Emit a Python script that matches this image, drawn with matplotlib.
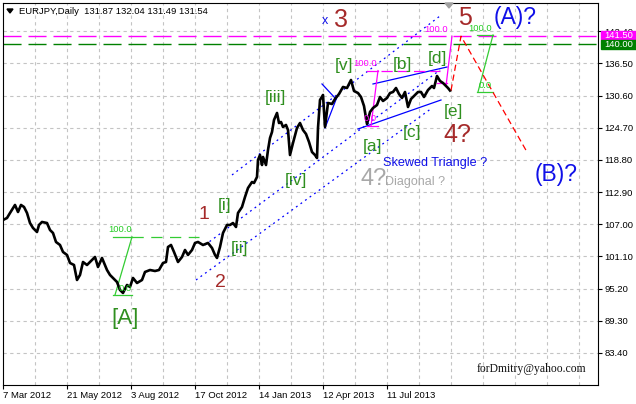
import matplotlib
matplotlib.use("Agg")
import matplotlib.pyplot as plt
from matplotlib.patches import Polygon, Rectangle

plt.rcParams["font.family"] = ["Liberation Sans", "DejaVu Sans"]

# ---------------------------------------------------------------------------
# Data (x = bar index from 7 Mar 2012, 1 bar per pixel)
# ---------------------------------------------------------------------------

bars = [0, 4, 7, 12, 15, 18, 21, 24, 27, 30, 34, 36, 39, 44, 47, 50, 53, 57, 60, 64,
        67, 71, 74, 77, 80, 84, 87, 92, 95, 99, 104, 107, 110, 114, 117, 120, 124, 127,
        130, 134, 139, 142, 147, 152, 156, 160, 163, 165, 168, 171, 175, 179, 182, 185,
        189, 192, 195, 200, 205, 209, 212, 214, 217, 220, 224, 227, 230, 233, 235, 239,
        242, 245, 249, 251, 254, 255, 257, 259, 260, 263, 265, 267, 269, 271, 274, 276,
        278, 280, 283, 285, 287, 290, 294, 297, 300, 303, 306, 309, 312, 314, 315, 317,
        320, 322, 325, 329, 332, 336, 340, 344, 348, 351, 355, 358, 361, 363, 364, 367,
        370, 374, 377, 380, 384, 387, 390, 393, 396, 399, 402, 405, 408, 411, 415, 418,
        421, 425, 429, 431, 434, 437, 440, 443, 445, 447]

closes = [107.79, 108.16, 109.08, 110.55, 109.26, 110.55, 110.18, 109.08, 107.24, 106.33,
          105.59, 106.88, 107.43, 107.24, 105.96, 105.41, 103.76, 103.21, 101.93, 101.38,
          99.91, 99.54, 96.79, 97.71, 100.09, 99.54, 100.09, 101.01, 99.17, 100.83,
          98.62, 97.71, 97.16, 96.42, 94.96, 94.41, 95.87, 95.51, 97.16, 96.24,
          96.79, 98.26, 98.62, 98.44, 98.62, 99.91, 100.09, 102.84, 103.21, 101.93,
          100.09, 101.01, 102.29, 101.38, 102.29, 103.58, 103.76, 103.21, 103.58, 102.66,
          101.38, 100.83, 102.84, 105.41, 106.88, 106.88, 107.24, 106.51, 109.08, 110.18,
          112.01, 113.66, 114.76, 114.58, 115.68, 118.80, 119.71, 117.88, 119.35, 117.88,
          120.63, 122.83, 123.93, 126.13, 127.42, 125.58, 125.77, 124.85, 125.22, 124.30,
          119.71, 121.92, 124.67, 125.58, 124.30, 123.57, 122.10, 120.26, 119.71, 119.16,
          124.67, 129.80, 130.72, 124.85, 129.25, 129.07, 129.98, 130.90, 132.19, 132.00,
          133.47, 131.45, 131.08, 130.35, 128.70, 126.50, 125.40, 127.60, 128.33, 128.88,
          130.35, 129.62, 130.17, 131.08, 131.27, 132.00, 130.90, 130.17, 131.27, 128.52,
          129.98, 130.53, 131.27, 131.27, 130.35, 131.63, 132.37, 132.00, 134.20, 133.29,
          132.92, 132.37, 132.00, 131.54]

date_ticks = [0, 64, 128, 192, 256, 320, 384]
date_labels = ["7 Mar 2012", "21 May 2012", "3 Aug 2012", "17 Oct 2012",
               "14 Jan 2013", "12 Apr 2013", "11 Jul 2013"]
price_ticks = [142.40, 136.50, 130.60, 124.70, 118.80, 112.90, 107.00,
               101.10, 95.20, 89.30, 83.40]

level_magenta = 141.50
level_green = 140.00

# blue dotted channel lines (bar, price) -> (bar, price)
channel_lines = [((229, 116.05), (437, 145.21)),
                 ((202, 103.21), (437, 135.30)),
                 ((193, 96.79), (429, 128.33))]

# blue solid triangle / wedge lines
triangle_lines = [((355, 124.48), (438, 129.80)),
                  ((370, 132.74), (444, 135.85)),
                  ((319, 132.74), (333, 129.98)),
                  ((322, 124.67), (334, 130.35))]

# red projected path: 5 then (B)
proj_bars = [448, 458, 524]
proj_prices = [131.54, 141.50, 120.26]

# fibo tools: (bar_left, bar_right, price_100, price_0, diagonal (b1,p1,b2,p2))
fibo_green = [(110, 129, 104.68, 94.04, (129, 104.68, 112, 94.04)),
              (474, 490, 141.72, 131.27, (490, 141.72, 475, 131.27))]
fibo_magenta = [(364, 375, 135.20, 125.03, (368, 125.03, 375, 135.20))]

# wave labels: text, bar, price, colour, size
GREEN_TXT = "#2f8f1f"
BROWN = "#a52a2a"
BLUE = "#1010e8"
GREY = "#a8a8a8"
wave_labels = [
    ("[A]", 122, 89.64, GREEN_TXT, 16),
    ("1", 201, 108.71, BROWN, 14),
    ("2", 217, 96.42, BROWN, 14),
    ("[i]", 222, 110.36, GREEN_TXT, 12.5),
    ("[ii]", 237, 102.48, GREEN_TXT, 12.5),
    ("[iii]", 272, 130.35, GREEN_TXT, 12.5),
    ("[iv]", 293, 114.95, GREEN_TXT, 12.5),
    ("[v]", 341, 136.04, GREEN_TXT, 12.5),
    ("[a]", 369, 121.18, GREEN_TXT, 12.5),
    ("[b]", 399, 136.40, GREEN_TXT, 12.5),
    ("[c]", 409, 123.93, GREEN_TXT, 12.5),
    ("[d]", 434, 137.50, GREEN_TXT, 12.5),
    ("[e]", 450, 127.60, GREEN_TXT, 12.5),
    ("4?", 454, 123.38, BROWN, 18),
    ("5", 462, 144.84, BROWN, 18),
    ("3", 338, 144.47, BROWN, 18),
    ("x", 322, 144.20, BLUE, 9),
    ("(A)?", 512, 144.84, BLUE, 16.5),
    ("(B)?", 553, 116.05, BLUE, 16.5),
    ("4?", 371, 115.31, GREY, 17),
    ("Diagonal ?", 412, 114.76, GREY, 9),
    ("Skewed Triangle ?", 432, 118.25, BLUE, 9.1),
]

# fibo level captions (right aligned): text, bar, price, colour
fibo_labels = [
    ("100.0", 129, 106.05, "#22cc22"),
    ("0.0", 129, 95.32, "#22cc22"),
    ("100.0", 374, 136.50, "#ff00ff"),
    ("0.0", 374, 126.32, "#ff00ff"),
    ("100.0", 445, 142.73, "#ff00ff"),
    ("100.0", 489, 142.91, "#22cc22"),
    ("0.0", 489, 132.37, "#22cc22"),
]

# ---------------------------------------------------------------------------
# Figure
# ---------------------------------------------------------------------------

W, H = 636, 404
fig = plt.figure(figsize=(W / 100, H / 100), dpi=100)
ax = fig.add_axes([3 / W, 19 / H, 595 / W, 382 / H])
ax.set_xlim(0, 595)
ax.set_ylim(77.53, 147.59)

# grid
for b in range(32, 595, 32):
    ax.axvline(b, color="#c4c4c4", lw=0.8, dashes=(3, 3), zorder=0)
for p in price_ticks:
    ax.axhline(p, color="#c4c4c4", lw=0.8, dashes=(3, 3), zorder=0)

# long horizontal target levels
ax.axhline(level_magenta, color="#ff00ff", lw=1, dashes=(13, 5), zorder=1)
ax.axhline(level_green, color="#008000", lw=1, dashes=(13, 5), zorder=1)

# channels
for (b1, p1), (b2, p2) in channel_lines:
    ax.plot([b1, b2], [p1, p2], color="#0000ff", lw=0.9, dashes=(1.5, 3), zorder=2)
for (b1, p1), (b2, p2) in triangle_lines:
    ax.plot([b1, b2], [p1, p2], color="#0000ff", lw=0.9, zorder=2)

# fibo tools
for left, right, p100, p0, (d1, q1, d2, q2) in fibo_green:
    ax.plot([left, right], [p100, p100], color="#33cc33", lw=0.9, zorder=2)
    ax.plot([left, right], [p0, p0], color="#33cc33", lw=0.9, zorder=2)
    ax.plot([d1, d2], [q1, q2], color="#33cc33", lw=0.9, zorder=2)
ax.plot([129, 196], [104.68, 104.68], color="#33cc33", lw=0.9, dashes=(9, 6), zorder=2)

for left, right, p100, p0, (d1, q1, d2, q2) in fibo_magenta:
    ax.plot([left, right], [p100, p100], color="#ff00ff", lw=0.9, zorder=2)
    ax.plot([left, right], [p0, p0], color="#ff00ff", lw=0.9, zorder=2)
    ax.plot([d1, d2], [q1, q2], color="#ff00ff", lw=0.9, zorder=2)
ax.plot([378, 437], [135.20, 135.20], color="#ff00ff", lw=0.9, dashes=(9, 4), zorder=2)
ax.plot([443, 449], [132.37, 141.50], color="#ff00ff", lw=0.9, zorder=2)
ax.plot([434, 444], [132.92, 132.92], color="#ff00ff", lw=0.9, zorder=2)

# price
ax.plot(bars, closes, color="black", lw=1.9, zorder=3)

# projection
ax.plot(proj_bars, proj_prices, color="#ff0000", lw=0.9, dashes=(5, 3), zorder=3)

for txt, b, p, col, fs in wave_labels:
    ax.text(b, p, txt, color=col, fontsize=fs, ha="center", va="center", zorder=4)
for txt, b, p, col in fibo_labels:
    ax.text(b, p, txt, color=col, fontsize=6.8, ha="right", va="center", zorder=4)

ax.text(528, 80.47, "forDmitry@yahoo.com", family=["Liberation Serif", "DejaVu Serif"],
        fontsize=8.4, ha="center", va="center", color="#101010")

# axes / ticks
for s in ax.spines.values():
    s.set_linewidth(0.8)
ax.yaxis.tick_right()
ax.set_yticks(price_ticks)
ax.set_yticklabels([f"{p:.2f}" for p in price_ticks])
ax.set_xticks(date_ticks)
ax.set_xticklabels(date_labels, ha="left")
ax.tick_params(axis="y", length=3, width=0.8, pad=1.5, labelsize=6.8)
ax.tick_params(axis="x", length=3, width=0.8, pad=1, labelsize=6.8)

# header
fig.text(19 / W, 1 - 11 / H, "EURJPY,Daily  131.87 132.04 131.49 131.54",
         fontsize=6.8, va="center", ha="left")
fig.patches.append(Polygon([(7 / W, 1 - 9 / H), (13 / W, 1 - 9 / H), (10 / W, 1 - 13 / H)],
                           closed=True, color="black", transform=fig.transFigure))
fig.patches.append(Polygon([(445 / W, 1 - 3 / H), (453 / W, 1 - 3 / H), (449 / W, 1 - 8 / H)],
                           closed=True, color="#a0a0a0", transform=fig.transFigure))

# right-side level boxes
for top, col, txt in [(31, "#ff00ff", "141.50"), (40, "#008000", "140.00")]:
    fig.patches.append(Rectangle((601 / W, 1 - (top + 9) / H), 35 / W, 9 / H,
                                 color=col, transform=fig.transFigure, zorder=5))
    fig.text(604 / W, 1 - (top + 4.5) / H, txt, color="white", fontsize=6.8,
             va="center", ha="left", zorder=6)

fig.savefig("out.png", dpi=100, facecolor="white")
